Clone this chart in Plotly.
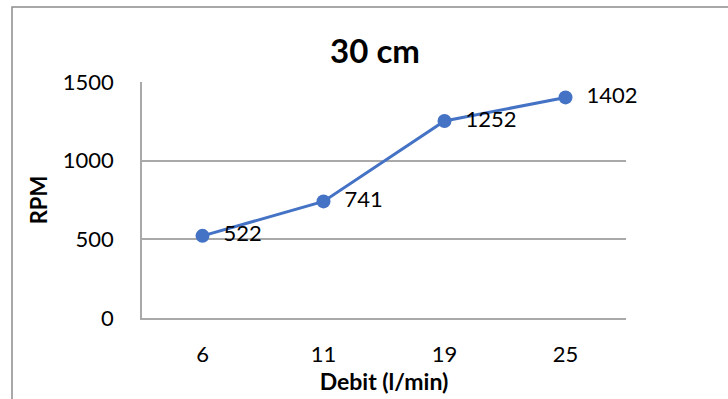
import plotly.graph_objects as go

# Flow rate (l/min) vs. rotor speed (RPM) at 30 cm
debit_labels = ["6", "11", "19", "25"]
rpm_values = [522, 741, 1252, 1402]
y_ticks = [0, 500, 1000, 1500]

W, H = 728, 399
L, R, T, B = 142, 102, 82, 81
pw, ph = W - L - R, H - T - B

FONT = "Lato, 'Open Sans', sans-serif"
LINE = "#4472C4"
GRID = "#a9a9a9"

fig = go.Figure(
    go.Scatter(
        x=debit_labels,
        y=rpm_values,
        mode="lines+markers+text",
        text=[f"  {v}" for v in rpm_values],
        textposition="middle right",
        textfont=dict(family=FONT, size=22, color="#000000"),
        line=dict(color=LINE, width=3),
        marker=dict(color=LINE, size=14),
        cliponaxis=False,
        hoverinfo="skip",
    )
)

# outer frame of the chart area (top and left edges visible)
fig.add_shape(
    type="rect", xref="paper", yref="paper",
    x0=(12 - L) / pw, x1=(W + 10 - L) / pw,
    y0=-(H + 10 - T - ph) / ph, y1=(T + ph - 7) / ph,
    line=dict(color="#8c8c8c", width=1.5), fillcolor="rgba(0,0,0,0)",
    layer="below",
)

fig.update_layout(
    width=W, height=H,
    margin=dict(l=L, r=R, t=T, b=B),
    paper_bgcolor="white", plot_bgcolor="white",
    showlegend=False,
    title=dict(
        text="<b>30 cm</b>", x=375 / W, xanchor="center",
        y=1 - 51 / H, yanchor="middle",
        font=dict(family=FONT, size=33, color="#000000"),
    ),
    xaxis=dict(
        type="category", range=[-0.5, 3.5],
        showgrid=False, showline=True, linecolor=GRID, linewidth=1.5,
        ticks="", ticklen=0, ticklabelstandoff=16,
        tickfont=dict(family=FONT, size=22, color="#000000"),
        title=dict(text="<b>Debit (l/min)</b>", standoff=2,
                   font=dict(family=FONT, size=23, color="#000000")),
        fixedrange=True,
    ),
    yaxis=dict(
        range=[0, 1500], tickvals=y_ticks,
        showgrid=True, gridcolor=GRID, gridwidth=1.5,
        showline=True, linecolor=GRID, linewidth=1.5,
        zeroline=False, ticks="", ticklabelstandoff=22,
        tickfont=dict(family=FONT, size=22, color="#000000"),
        title=dict(text="<b>RPM</b>", standoff=9,
                   font=dict(family=FONT, size=22, color="#000000")),
        fixedrange=True,
    ),
)

fig.write_html("out.html")
